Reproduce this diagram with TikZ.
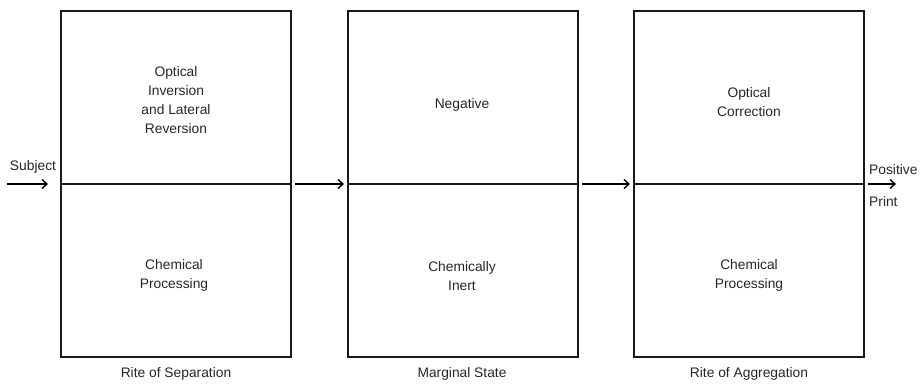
\documentclass[tikz,border=0pt]{standalone}
\usepackage{fontspec}
\setmainfont{Liberation Sans}
\usetikzlibrary{arrows.meta}
\begin{document}
\begin{tikzpicture}[x=1pt,y=-1pt,
  half/.style={draw=black!90,line width=1.6pt,minimum width=230pt,minimum height=173pt,inner sep=0pt,outer sep=0pt,anchor=north west},
  lbl/.style={align=center,font=\fontsize{13.8}{19}\selectfont,text=black!85,inner sep=0pt},
  arr/.style={line width=1.5pt,-{Straight Barb[length=5pt,width=9pt,line width=1.4pt]}}]
\useasboundingbox (0,0) rectangle (923,388);

% three two-part boxes
\node[half] (b1top) at (61,11) {};
\node[half,anchor=north west] (b1bot) at (b1top.south west) {};
\node[half] (b2top) at (348,11) {};
\node[half,anchor=north west] (b2bot) at (b2top.south west) {};
\node[half] (b3top) at (634,11) {};
\node[half,anchor=north west] (b3bot) at (b3top.south west) {};

% texts inside the boxes
\node[lbl] (t1a) at (176,100) {Optical\\Inversion\\and Lateral\\Reversion};
\node[lbl] (t1b) at (174,275) {Chemical\\Processing};
\node[lbl] (t2a) at (462,105) {Negative};
\node[lbl] (t2b) at (462,276) {Chemically\\Inert};
\node[lbl] (t3a) at (749,102) {Optical\\Correction};
\node[lbl] (t3b) at (749,275) {Chemical\\Processing};

% captions under the boxes
\node[lbl] (c1) at (176,374) {Rite of Separation};
\node[lbl] (c2) at (462,374) {Marginal State};
\node[lbl] (c3) at (749,374) {Rite of Aggregation};

% input and output labels
\node[lbl] (subj) at (33,167) {Subject};
\node[lbl,anchor=west] (pos) at (869,170) {Positive};
\node[lbl,anchor=west] (prt) at (869,202) {Print};

% connectors
\coordinate (in) at (7,0);
\coordinate (out) at (896,0);
\draw[arr,line width=2.4pt] (in |- b1top.south west) -- ([xshift=-13pt]b1top.south west);
\draw[arr] ([xshift=4pt]b1top.south east) -- ([xshift=-4pt]b2top.south west);
\draw[arr] ([xshift=4pt]b2top.south east) -- ([xshift=-4pt]b3top.south west);
\draw[arr,line width=2pt] ([xshift=4pt]b3top.south east) -- (out |- b3top.south east);
\end{tikzpicture}
\end{document}
